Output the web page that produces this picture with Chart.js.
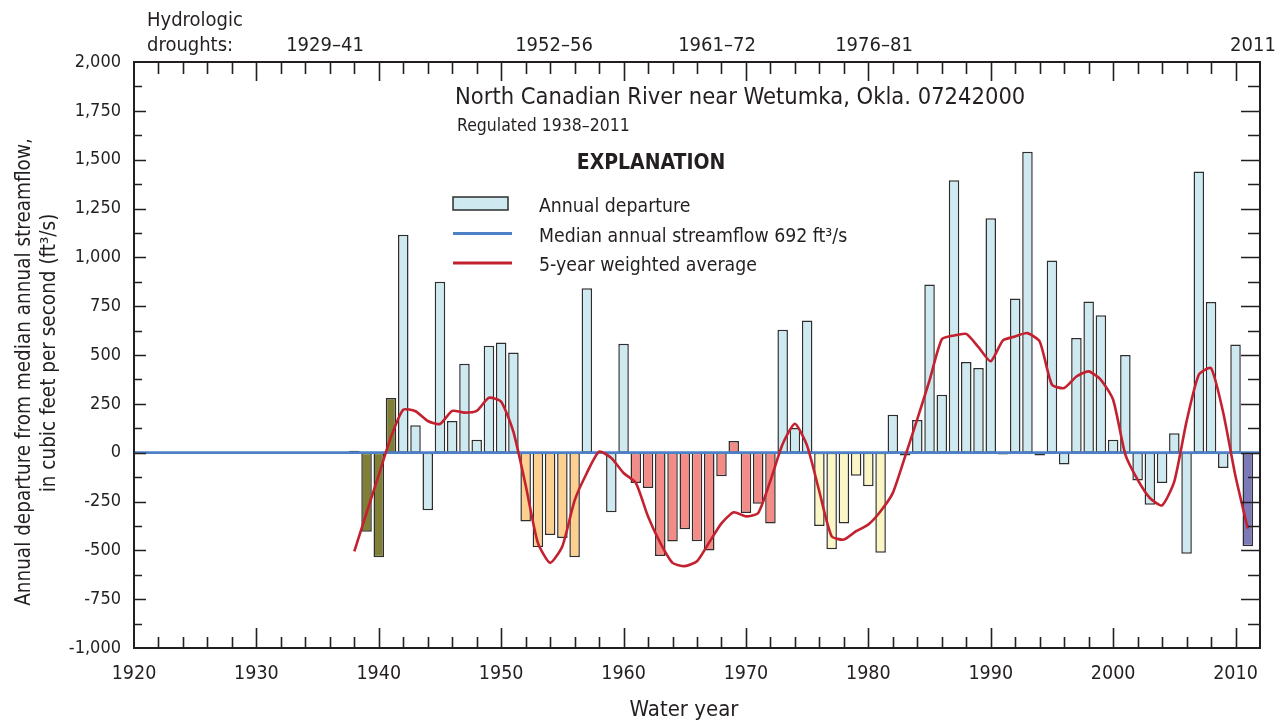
<!DOCTYPE html>
<html>
<head>
<meta charset="utf-8">
<script src="https://cdn.jsdelivr.net/npm/chart.js@4.4.0/dist/chart.umd.min.js"></script>
<style>
  html, body { margin: 0; padding: 0; background: #fff; }
  #wrap { width: 1283px; height: 724px; }
</style>
</head>
<body>
<div id="wrap"><canvas id="chart" width="1283" height="724"></canvas></div>
<script>
// Water years shown as bars
const years = [
  1938, 1939, 1940, 1941, 1942, 1943, 1944, 1945, 1946, 1947,
  1948, 1949, 1950, 1951, 1952, 1953, 1954, 1955, 1956, 1957,
  1958, 1959, 1960, 1961, 1962, 1963, 1964, 1965, 1966, 1967,
  1968, 1969, 1970, 1971, 1972, 1973, 1974, 1975, 1976, 1977,
  1978, 1979, 1980, 1981, 1982, 1983, 1984, 1985, 1986, 1987,
  1988, 1989, 1990, 1991, 1992, 1993, 1994, 1995, 1996, 1997,
  1998, 1999, 2000, 2001, 2002, 2003, 2004, 2005, 2006, 2007,
  2008, 2009, 2010, 2011
];

// Annual departure from median annual streamflow (ft3/s)
const departure = [
  10, -405, -535, 280, 1115, 140, -295, 875, 162, 455,
  66, 547, 564, 513, -353, -484, -421, -437, -535, 842,
  0, -305, 557, -155, -181, -529, -455, -392, -453, -501,
  -121, 60, -309, -262, -362, 629, 126, 677, -376, -494,
  -363, -118, -172, -513, 194, -15, 167, 861, 297, 1395,
  464, 433, 1200, -10, 789, 1540, -15, 984, -61, 587,
  774, 703, 66, 500, -142, -266, -155, 99, -517, 1439,
  771, -78, 554, -479
];

// 5-year weighted average
const weightedAvg = [
  -505, -308, -114, 81, 220, 212, 162, 147, 214, 205,
  214, 281, 261, 106, -167, -462, -564, -479, -245, -104,
  5, -27, -104, -155, -327, -462, -564, -581, -556, -459,
  -362, -305, -326, -309, -143, 44, 148, 35, -200, -428,
  -445, -402, -368, -300, -206, -20, 172, 370, 580, 600,
  608, 540, 468, 575, 595, 612, 569, 348, 331, 390,
  416, 373, 271, -10, -138, -232, -270, -147, 160, 399,
  433, 203, -121, -389
];

// Median line (departure of zero) across the whole axis
const medianYears = [1920, 2012];
const medianDeparture = [0, 0];

// Hydrologic droughts
const droughtLabels = ["1929\u201341", "1952\u201356", "1961\u201372", "1976\u201381", "2011"];
const droughtStart = [1929, 1952, 1961, 1976, 2011];
const droughtEnd = [1941, 1956, 1972, 1981, 2011];

const xTickLabels = [1920, 1930, 1940, 1950, 1960, 1970, 1980, 1990, 2000, 2010];
const yTickLabels = [-1000, -750, -500, -250, 0, 250, 500, 750, 1000, 1250, 1500, 1750, 2000];

// Couleurs
const FONT = "'Liberation Sans Narrow', 'DejaVu Sans Condensed', 'Roboto Condensed', sans-serif";
const TEXT = "#231f20";
const droughtColors = ["#7f7f36", "#fdd08f", "#f38b87", "#fbf6c5", "#7c79b9"];
const normalColor = "#cfe9f1";
const barBorder = "#2e2e2e";
const medianColor = "#4d80c6";
const avgColor = "#c42130";

const barColors = years.map((yr) => {
  for (let i = 0; i < droughtStart.length; i++) {
    if (yr >= droughtStart[i] && yr <= droughtEnd[i]) return droughtColors[i];
  }
  return normalColor;
});

// Cadre, graduations et textes
const decorPlugin = {
  id: "decor",
  afterDraw(chart) {
    const { ctx, chartArea: a, scales } = chart;
    const x = scales.x;
    const y = scales.y;
    ctx.save();
    ctx.strokeStyle = TEXT;
    ctx.lineWidth = 1.6;

    // graduations de l'axe x (haut et bas)
    for (let yr = 1922; yr < 2012; yr += 2) {
      const px = Math.round(x.getPixelForValue(yr)) + 0.5;
      const major = yr % 10 === 0;
      ctx.beginPath();
      ctx.moveTo(px, a.bottom);
      ctx.lineTo(px, a.bottom - (major ? 20 : 11));
      ctx.moveTo(px, a.top);
      ctx.lineTo(px, a.top + (major ? 19 : 12));
      ctx.stroke();
    }

    // graduations de l'axe y (gauche et droite)
    for (let v = -875; v < 2000; v += 125) {
      const py = Math.round(y.getPixelForValue(v)) + 0.5;
      const major = v % 250 === 0;
      ctx.beginPath();
      ctx.moveTo(a.left, py);
      ctx.lineTo(a.left + (major ? 12 : 8), py);
      ctx.moveTo(a.right, py);
      ctx.lineTo(a.right - (major ? 19 : 12), py);
      ctx.stroke();
    }

    ctx.lineWidth = 2;
    ctx.strokeRect(a.left, a.top, a.right - a.left, a.bottom - a.top);

    ctx.fillStyle = TEXT;
    ctx.textBaseline = "alphabetic";

    // sécheresses hydrologiques
    ctx.font = "20px " + FONT;
    ctx.textAlign = "left";
    ctx.fillText("Hydrologic", 147, 26);
    ctx.fillText("droughts:", 147, 51);
    ctx.textAlign = "center";
    const droughtCenters = [325, 554, 717, 874, 1253];
    droughtLabels.forEach((lbl, i) => ctx.fillText(lbl, droughtCenters[i], 51));

    // titre
    ctx.textAlign = "left";
    ctx.font = "23.5px " + FONT;
    ctx.fillText("North Canadian River near Wetumka, Okla. 07242000", 455, 104);
    ctx.font = "17.5px " + FONT;
    ctx.fillText("Regulated 1938\u20132011", 457, 131);

    // légende
    ctx.font = "bold 21px " + FONT;
    ctx.textAlign = "center";
    ctx.fillText("EXPLANATION", 651, 169);

    ctx.fillStyle = normalColor;
    ctx.fillRect(453, 197, 55, 13);
    ctx.strokeStyle = barBorder;
    ctx.lineWidth = 1.5;
    ctx.strokeRect(453, 197, 55, 13);

    ctx.lineWidth = 3;
    ctx.strokeStyle = medianColor;
    ctx.beginPath();
    ctx.moveTo(453, 233.5);
    ctx.lineTo(512, 233.5);
    ctx.stroke();
    ctx.strokeStyle = avgColor;
    ctx.beginPath();
    ctx.moveTo(453, 263);
    ctx.lineTo(512, 263);
    ctx.stroke();

    ctx.fillStyle = TEXT;
    ctx.textAlign = "left";
    ctx.font = "19.3px " + FONT;
    ctx.fillText("Annual departure", 539, 212);
    ctx.fillText("Median annual streamflow 692 ft\u00b3/s", 539, 242);
    ctx.fillText("5-year weighted average", 539, 271);

    // titres des axes
    ctx.textAlign = "center";
    ctx.font = "22px " + FONT;
    ctx.fillText("Water year", 684, 716);

    ctx.font = "20.5px " + FONT;
    ctx.save();
    ctx.translate(30, 372);
    ctx.rotate(-Math.PI / 2);
    ctx.fillText("Annual departure from median annual streamflow,", 0, 0);
    ctx.restore();
    ctx.save();
    ctx.translate(55, 353);
    ctx.rotate(-Math.PI / 2);
    ctx.fillText("in cubic feet per second (ft\u00b3/s)", 0, 0);
    ctx.restore();

    ctx.restore();
  }
};

const ctx = document.getElementById("chart");

new Chart(ctx, {
  data: {
    datasets: [
      {
        type: "bar",
        label: "Annual departure",
        data: years.map((yr, i) => ({ x: yr, y: departure[i] })),
        backgroundColor: barColors,
        borderColor: barBorder,
        borderWidth: 1.5,
        borderSkipped: false,
        barPercentage: 0.86,
        categoryPercentage: 1,
        order: 3,
      },
      {
        type: "line",
        label: "Median annual streamflow",
        data: medianYears.map((yr, i) => ({ x: yr, y: medianDeparture[i] })),
        borderColor: medianColor,
        borderWidth: 2.6,
        pointRadius: 0,
        order: 2,
      },
      {
        type: "line",
        label: "5-year weighted average",
        data: years.map((yr, i) => ({ x: yr, y: weightedAvg[i] })),
        borderColor: avgColor,
        borderWidth: 2.6,
        pointRadius: 0,
        tension: 0.2,
        order: 1,
      },
    ],
  },
  options: {
    responsive: false,
    animation: false,
    layout: { padding: { left: 0, right: 23, top: 62, bottom: 0 } },
    plugins: {
      legend: { display: false },
      tooltip: { enabled: false },
    },
    scales: {
      x: {
        type: "linear",
        min: 1920,
        max: 2012,
        offset: false,
        afterBuildTicks: (s) => {
          s.ticks = xTickLabels.map((v) => ({ value: v }));
        },
        afterFit: (s) => {
          s.height = 76;
        },
        grid: { display: false, drawTicks: false },
        border: { display: false },
        ticks: {
          autoSkip: false,
          maxRotation: 0,
          padding: 14,
          color: TEXT,
          font: { family: FONT, size: 19.5 },
          callback: (v) => String(v),
        },
      },
      y: {
        type: "linear",
        min: -1000,
        max: 2000,
        afterBuildTicks: (s) => {
          s.ticks = yTickLabels.map((v) => ({ value: v }));
        },
        afterFit: (s) => {
          s.width = 134;
        },
        grid: { display: false, drawTicks: false },
        border: { display: false },
        ticks: {
          padding: 13,
          color: TEXT,
          font: { family: FONT, size: 18 },
          callback: (v) => v.toLocaleString("en-US"),
        },
      },
    },
  },
  plugins: [decorPlugin],
});
</script>
</body>
</html>
